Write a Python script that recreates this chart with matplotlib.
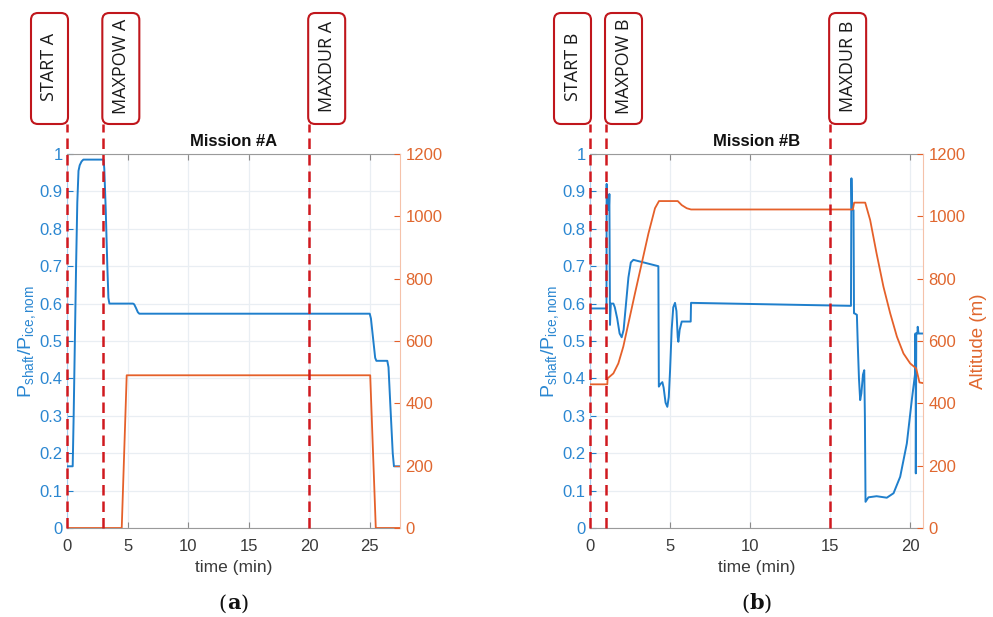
import matplotlib
matplotlib.use("Agg")
import matplotlib.pyplot as plt
from matplotlib.patches import FancyBboxPatch
from matplotlib.lines import Line2D
from matplotlib.text import Annotation
from matplotlib.ticker import FuncFormatter

plt.rcParams['font.family'] = ['Liberation Sans', 'DejaVu Sans']
plt.rcParams['mathtext.fontset'] = 'custom'
plt.rcParams['mathtext.rm'] = 'Liberation Sans'
plt.rcParams['mathtext.it'] = 'Liberation Sans:italic'
plt.rcParams['mathtext.bf'] = 'Liberation Sans:bold'

# ---------------- data ----------------
titles = ['Mission #A', 'Mission #B']
captions = ['a', 'b']
xlims = [27.5, 20.8]
xticks_A = [0, 5, 10, 15, 20, 25]
xticks_B = [0, 5, 10, 15, 20]
yticks_power = [0, 0.1, 0.2, 0.3, 0.4, 0.5, 0.6, 0.7, 0.8, 0.9, 1.0]
yticks_alt = [0, 200, 400, 600, 800, 1000, 1200]

event_labels_A = ['START A', 'MAXPOW A', 'MAXDUR A']
event_times_A = [0.0, 3.0, 20.0]
event_labels_B = ['START B', 'MAXPOW B', 'MAXDUR B']
event_times_B = [0.0, 1.0, 15.0]

tA_power = [0, 0.47, 0.55, 0.65, 0.75, 0.85, 0.95, 1.05, 1.2, 1.35, 3.02, 3.08, 3.2, 3.33,
            3.42, 3.5, 5.45, 5.55, 5.7, 5.85, 5.97, 25.0, 25.1, 25.3, 25.45, 25.55, 26.45,
            26.55, 26.7, 26.9, 27.0, 27.5]
pA = [0.165, 0.165, 0.3, 0.5, 0.7, 0.87, 0.955, 0.97, 0.98, 0.985, 0.985, 0.96, 0.85, 0.7,
      0.615, 0.60, 0.60, 0.598, 0.588, 0.577, 0.573, 0.573, 0.56, 0.5, 0.455, 0.447, 0.447,
      0.43, 0.33, 0.2, 0.165, 0.165]
tA_alt = [0, 4.52, 4.93, 25.04, 25.5, 27.5]
altA = [0, 0, 490, 490, 0, 0]

tB_power = [0, 1.03, 1.04, 1.07, 1.10, 1.18, 1.21, 1.25, 1.30, 1.46, 1.55, 1.7, 1.85, 1.98,
            2.1, 2.25, 2.4, 2.55, 2.71, 4.27, 4.30, 4.40, 4.52, 4.60, 4.72, 4.83, 4.92, 5.0,
            5.1, 5.2, 5.31, 5.40, 5.48, 5.52, 5.60, 5.73, 6.29, 6.31, 16.30, 16.33, 16.36,
            16.46, 16.49, 16.52, 16.67, 16.73, 16.80, 16.875, 16.95, 17.05, 17.13, 17.17,
            17.21, 17.39, 17.9, 18.54, 18.96, 19.375, 19.79, 20.1, 20.31, 20.32, 20.34,
            20.35, 20.38, 20.45, 20.47, 20.52, 20.8]
pB = [0.587, 0.587, 0.92, 0.86, 0.855, 0.85, 0.893, 0.543, 0.60, 0.60, 0.59, 0.56, 0.52,
      0.51, 0.53, 0.60, 0.67, 0.71, 0.717, 0.70, 0.378, 0.385, 0.39, 0.375, 0.335, 0.324,
      0.35, 0.42, 0.53, 0.59, 0.602, 0.58, 0.51, 0.498, 0.53, 0.552, 0.552, 0.602, 0.594,
      0.935, 0.85, 0.85, 0.574, 0.574, 0.57, 0.485, 0.40, 0.342, 0.36, 0.41, 0.422, 0.30,
      0.07, 0.082, 0.085, 0.081, 0.093, 0.137, 0.226, 0.342, 0.414, 0.52, 0.52, 0.146,
      0.52, 0.52, 0.538, 0.52, 0.52]
tB_alt = [0, 1.08, 1.10, 1.46, 1.77, 2.08, 2.4, 2.81, 3.23, 3.65, 4.06, 4.31, 5.48, 5.73,
          6.04, 6.31, 16.42, 16.5, 17.19, 17.5, 17.9, 18.33, 18.75, 19.17, 19.58, 20.0,
          20.375, 20.58, 20.8]
altB = [461, 461, 480, 496, 528, 582, 657, 753, 849, 945, 1026, 1049, 1049, 1036, 1026,
        1022, 1022, 1044, 1044, 988, 881, 774, 689, 614, 560, 528, 512, 467, 465]

# ---------------- style ----------------
BLUE = '#1f7fcc'
BLUE_TXT = '#2b87d1'
BLUE_SPINE = '#a8cfee'
ORANGE = '#e5602a'
ORANGE_TXT = '#e0672f'
ORANGE_SPINE = '#f5c2aa'
RED = '#d0191f'
BOX_RED = '#c0161c'
GRID = '#e9eef3'

W, H = 993, 617
fig = plt.figure(figsize=(W / 100, H / 100), dpi=100)

ax_left_px = [67, 590]
ax_w_px = 333
ax_top_px, ax_bot_px = 154, 528

fmt = FuncFormatter(lambda v, p: '%g' % round(v, 3))

panels = [
    (tA_power, pA, tA_alt, altA, xticks_A, event_labels_A, event_times_A, False),
    (tB_power, pB, tB_alt, altB, xticks_B, event_labels_B, event_times_B, True),
]

for i, (tp, pv, ta, av, xt, ev_lab, ev_t, show_alt_label) in enumerate(panels):
    ax = fig.add_axes([ax_left_px[i] / W, 1 - ax_bot_px / H, ax_w_px / W,
                       (ax_bot_px - ax_top_px) / H])
    ax.plot(tp, pv, color=BLUE, lw=1.4, zorder=3)
    ax.set_xlim(0, xlims[i])
    ax.set_ylim(0, 1)
    ax.set_xticks(xt)
    ax.set_yticks(yticks_power)
    ax.yaxis.set_major_formatter(fmt)
    ax.grid(True, color=GRID, lw=0.9)
    ax.set_axisbelow(True)
    ax.tick_params(axis='x', direction='in', top=True, length=4, color='#8a8a8a',
                   labelcolor='#3a3a3a', labelsize=12, pad=8)
    ax.tick_params(axis='y', direction='in', length=4, color=BLUE, labelcolor=BLUE_TXT,
                   labelsize=12, pad=3)
    ax.spines['left'].set_color(BLUE_SPINE)
    ax.spines['top'].set_color('#9a9a9a')
    ax.spines['bottom'].set_color('#9a9a9a')
    ax.spines['right'].set_visible(False)
    ax.set_title(titles[i], fontweight='bold', fontsize=12, pad=6, color='#111111')
    ax.set_xlabel('time (min)', fontsize=12.5, color='#3a3a3a', labelpad=4)
    ax.set_ylabel(r'P$_{\mathrm{shaft}}$/P$_{\mathrm{ice,nom}}$', fontsize=14,
                  color=BLUE_TXT, labelpad=1)

    ax2 = ax.twinx()
    ax2.plot(ta, av, color=ORANGE, lw=1.3, zorder=3)
    ax2.set_ylim(0, 1200)
    ax2.set_yticks(yticks_alt)
    ax2.tick_params(axis='y', direction='in', length=4, color=ORANGE, labelcolor=ORANGE_TXT,
                    labelsize=12, pad=4)
    for s in ['left', 'top', 'bottom']:
        ax2.spines[s].set_visible(False)
    ax2.spines['right'].set_color(ORANGE_SPINE)
    if show_alt_label:
        ax2.set_ylabel('Altitude (m)', fontsize=13.5, color=ORANGE_TXT, labelpad=3)

    # event markers
    inv = fig.transFigure.inverted()
    box_w, box_h = 37, 111
    box_top = 13
    for j, (lab, t) in enumerate(zip(ev_lab, ev_t)):
        xd = ax.transData.transform((t, 0))[0]
        xf = inv.transform((xd, 0))[0]
        line = Line2D([xf, xf], [1 - ax_bot_px / H, 1 - (box_top + box_h) / H],
                      transform=fig.transFigure, color=RED, lw=1.8,
                      linestyle=(0, (4.2, 2.4)), zorder=5)
        fig.add_artist(line)
        if j == 0:
            x0 = xd + 1 - box_w
        else:
            x0 = xd - 1
        y0 = H - box_top - box_h
        box = FancyBboxPatch((x0 / 100, y0 / 100), box_w / 100, box_h / 100,
                             boxstyle='round,pad=0,rounding_size=0.07',
                             transform=fig.dpi_scale_trans, facecolor='white',
                             edgecolor=BOX_RED, lw=1.5, zorder=6)
        fig.add_artist(box)
        fig.text((x0 + box_w / 2) / W, (y0 + box_h / 2 + 2) / H, lab, rotation=90,
                 ha='center', va='center', fontsize=13, family='Open Sans',
                 color='#1a1a1a', zorder=7)

    # caption: "(" + bold letter + ")"
    cx = (ax_left_px[i] + ax_w_px / 2) / W
    ta_txt = fig.text(cx, 0.006, captions[i], ha='center', va='bottom', fontsize=15,
                      family='DejaVu Serif', fontweight='bold', color='#111111')
    fig.add_artist(Annotation('(', xy=(0, 0), xycoords=ta_txt, ha='right', va='bottom',
                              fontsize=15, family='DejaVu Serif', color='#111111'))
    fig.add_artist(Annotation(')', xy=(1, 0), xycoords=ta_txt, ha='left', va='bottom',
                              fontsize=15, family='DejaVu Serif', color='#111111'))

fig.savefig('out.png', dpi=100)
